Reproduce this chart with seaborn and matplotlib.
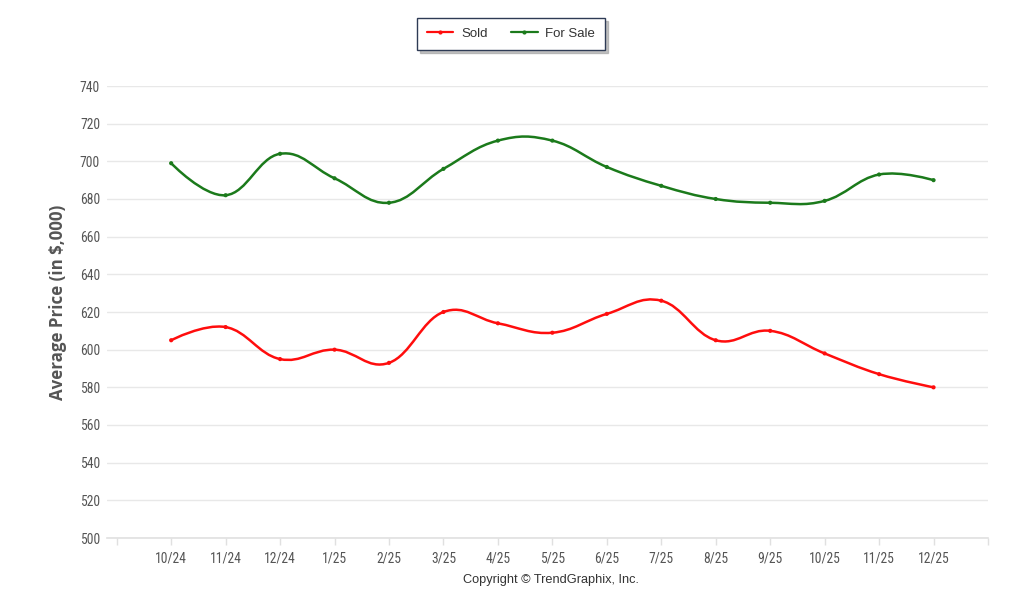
import numpy as np
import pandas as pd
import matplotlib
matplotlib.use("Agg")
import matplotlib.pyplot as plt
import seaborn as sns
from matplotlib.path import Path
from matplotlib.patches import PathPatch
from matplotlib.lines import Line2D

months = ["10/24", "11/24", "12/24", "1/25", "2/25", "3/25", "4/25", "5/25",
          "6/25", "7/25", "8/25", "9/25", "10/25", "11/25", "12/25"]
sold = [605, 612, 595, 600, 593, 620, 614, 609, 619, 626, 605, 610, 598, 587, 580]
for_sale = [699, 682, 704, 691, 678, 696, 711, 711, 697, 687, 680, 678, 679, 693, 690]
series_names = ["Sold", "For Sale"]
series_colors = {"Sold": "#ff0d0d", "For Sale": "#1b7a1b"}
y_ticks = list(range(500, 741, 20))

sns.set_theme(style="white")
plt.rcParams["font.family"] = ["Liberation Sans", "DejaVu Sans"]

df = pd.DataFrame({
    "idx": list(range(len(months))) * 2,
    "price": sold + for_sale,
    "series": ["Sold"] * len(months) + ["For Sale"] * len(months),
})

fig = plt.figure(figsize=(10.24, 6.14), dpi=100)
ax = fig.add_axes([107 / 1024, 1 - 538 / 614, (988 - 107) / 1024, (538 - 86) / 614])


def spline_path(xs, ys, sm=1.5):
    n = len(xs)
    d = sm + 1
    ctrls = []
    for i in range(n):
        x, y = xs[i], ys[i]
        if i == 0 or i == n - 1:
            ctrls.append(((x, y), (x, y)))
            continue
        lx, ly = xs[i - 1], ys[i - 1]
        nx, ny = xs[i + 1], ys[i + 1]
        lcx, lcy = (sm * x + lx) / d, (sm * y + ly) / d
        rcx, rcy = (sm * x + nx) / d, (sm * y + ny) / d
        if rcx != lcx:
            corr = ((rcy - lcy) * (rcx - x)) / (rcx - lcx) + y - rcy
            lcy += corr
            rcy += corr
        ctrls.append(((lcx, lcy), (rcx, rcy)))
    verts = [(xs[0], ys[0])]
    codes = [Path.MOVETO]
    for i in range(1, n):
        verts += [ctrls[i - 1][1], ctrls[i][0], (xs[i], ys[i])]
        codes += [Path.CURVE4] * 3
    return Path(verts, codes)


for name in series_names:
    sub = df[df["series"] == name]
    p = spline_path(sub["idx"].tolist(), sub["price"].tolist())
    ax.add_patch(PathPatch(p, facecolor="none", edgecolor=series_colors[name],
                           lw=1.8, zorder=3, capstyle="round", joinstyle="round"))

sns.scatterplot(data=df, x="idx", y="price", hue="series", palette=series_colors,
                s=9, linewidth=0, legend=False, ax=ax, zorder=4)

ax.set_xlim(-1 - 9.7 / 54.44, len(months))
ax.set_ylim(500, 740)
ax.set_yticks(y_ticks)
ax.set_yticklabels([str(v) for v in y_ticks])
ax.set_xticks(list(range(-1, len(months) + 1)))
ax.set_xticklabels([""] + months + [""])
ax.grid(axis="y", color="#e8e8e8", lw=1)
ax.set_axisbelow(True)
for s in ["top", "right", "left"]:
    ax.spines[s].set_visible(False)
ax.spines["bottom"].set_color("#e0e0e0")
ax.spines["bottom"].set_linewidth(1.2)
ax.tick_params(axis="x", length=5, width=1, color="#e0e0e0", pad=5,
               labelsize=9.8, labelcolor="#555555", bottom=True)
ax.tick_params(axis="y", length=0, pad=5, labelsize=9.8, labelcolor="#555555")
for lab in ax.get_xticklabels() + ax.get_yticklabels():
    lab.set_family(["Liberation Sans Narrow", "Roboto Condensed", "Liberation Sans"])
ax.set_xlabel("")
ax.set_ylabel("Average Price (in $,000)", fontsize=12.2, fontweight="bold",
              color="#555555", family=["Open Sans", "DejaVu Sans"])
ax.yaxis.set_label_coords((67 - 107) / 881, (538 - 302) / 452)

fig.text(551 / 1024, 1 - 580 / 614, "Copyright \u00a9 TrendGraphix, Inc.",
         ha="center", va="center", fontsize=9.2, color="#333333")

handles = [Line2D([0], [0], color=series_colors[n], lw=1.6, marker="o", markersize=2)
           for n in series_names]
leg = fig.legend(handles, series_names, loc="center", bbox_to_anchor=(511 / 1024, 1 - 34 / 614),
                 ncol=2, frameon=True, fancybox=False,
                 shadow={"color": "#9a9a9a", "alpha": 0.6},
                 fontsize=9.5, handlelength=2.0, columnspacing=1.8, borderpad=0.75,
                 handletextpad=0.6)
leg.get_frame().set_edgecolor("#2e3b55")
leg.get_frame().set_linewidth(1.0)
for t in leg.get_texts():
    t.set_color("#333333")

fig.savefig("out.png", dpi=100, facecolor="white")
